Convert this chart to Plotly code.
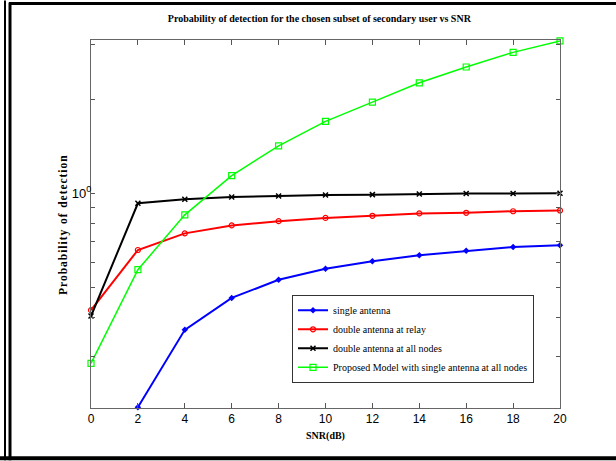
import plotly.graph_objects as go
import math

snr = [0, 2, 4, 6, 8, 10, 12, 14, 16, 18, 20]
single_antenna = [None, 0.206, 0.365, 0.462, 0.528, 0.573, 0.606, 0.633, 0.654, 0.673, 0.681]
double_relay = [0.422, 0.658, 0.744, 0.789, 0.814, 0.834, 0.847, 0.862, 0.866, 0.876, 0.881]
double_all = [0.404, 0.929, 0.957, 0.973, 0.980, 0.988, 0.990, 0.995, 0.998, 0.999, 1.0]
proposed = [0.285, 0.569, 0.853, 1.139, 1.42, 1.70, 1.96, 2.26, 2.54, 2.83, 3.08]

names = ["single antenna", "double antenna at relay", "double antenna at all nodes",
         "Proposed Model with single antenna at all nodes"]

x_ticks = [0, 2, 4, 6, 8, 10, 12, 14, 16, 18, 20]
y_ticks = [0.3, 0.4, 0.5, 0.6, 0.7, 0.8, 0.9, 1, 2, 3]
y_ticktext = ["", "", "", "", "", "", "", "10<sup>0</sup>", "", ""]

fig = go.Figure()
styles = [
    (single_antenna, "#0000ff", 2, dict(symbol="diamond", size=5)),
    (double_relay, "#ff0000", 2, dict(symbol="circle-open", size=5, line=dict(width=1.2))),
    (double_all, "#000000", 2, dict(symbol="x-thin-open", size=5, line=dict(width=1.5, color="#000000"))),
    (proposed, "#00ff00", 1.5, dict(symbol="square-open", size=6, line=dict(width=1.2))),
]
for (vals, col, lw, mk), nm in zip(styles, names):
    mk = dict(mk)
    mk["color"] = col
    fig.add_trace(go.Scatter(x=snr, y=vals, name=nm, mode="lines+markers",
                             line=dict(color=col, width=lw), marker=mk,
                             cliponaxis=False, connectgaps=False))

L, R, T, B = 91, 560, 39.5, 408.5
W, H = 616, 461
pw, ph = R - L, B - T

def px(x):
    return (x - L) / pw

def py(y):
    return (B - y) / ph

shapes = [
    dict(type="line", xref="paper", yref="paper", x0=px(5), x1=px(5), y0=py(0), y1=py(461),
         line=dict(color="black", width=2)),
    dict(type="line", xref="paper", yref="paper", x0=px(10), x1=px(10), y0=py(2), y1=py(461),
         line=dict(color="black", width=3)),
    dict(type="line", xref="paper", yref="paper", x0=px(9), x1=px(616), y0=py(3), y1=py(3),
         line=dict(color="black", width=3)),
    dict(type="line", xref="paper", yref="paper", x0=px(0), x1=px(616), y0=py(459), y1=py(459),
         line=dict(color="black", width=4)),
]

annotations = [
    dict(text="<b>P r o b a b i l i t y  o f  d e t e c t i o n</b>".replace(" ", "\u200a").replace("\u200a\u200a", "\u2002"),
         xref="paper", yref="paper", x=px(64), y=py(225), xanchor="center", yanchor="middle",
         textangle=-90, showarrow=False,
         font=dict(family="Liberation Serif", size=11.5, color="black")),
]

fig.update_layout(
    width=W, height=H,
    margin=dict(l=L, r=W - R, t=T, b=H - B, autoexpand=False),
    paper_bgcolor="white", plot_bgcolor="white",
    showlegend=True,
    title=dict(text="<b>Probability of detection for the chosen subset of secondary user vs SNR</b>",
               x=(L + R) / 2 / W - 0.01, xanchor="center", y=1 - 18 / H, yanchor="middle",
               font=dict(family="Liberation Serif", size=10, color="black")),
    legend=dict(x=px(292), y=py(295), xanchor="left", yanchor="top",
                bgcolor="white", bordercolor="#333333", borderwidth=1,
                font=dict(family="Liberation Serif", size=10, color="black"),
                tracegroupgap=0, itemwidth=30),
    shapes=shapes,
    annotations=annotations,
    xaxis=dict(range=[0, 20], tickvals=x_ticks, ticks="inside", ticklen=5, tickcolor="#555",
               showline=True, linecolor="#666", linewidth=1, mirror="ticks",
               showgrid=False, zeroline=False, automargin=False,
               tickfont=dict(family="Liberation Sans", size=12, color="black"),
               title=dict(text="<b>SNR(dB)</b>", standoff=6,
                          font=dict(family="Liberation Serif", size=10, color="black"))),
    yaxis=dict(type="log", range=[math.log10(0.205), math.log10(3.1)],
               tickvals=y_ticks, ticktext=y_ticktext, ticks="inside", ticklen=4, tickcolor="#555",
               showline=True, linecolor="#666", linewidth=1, mirror="ticks",
               showgrid=False, zeroline=False, automargin=False, ticklabelstandoff=-4,
               tickfont=dict(family="Liberation Sans", size=13, color="black")),
)

fig.write_html("out.html", config={"displayModeBar": False},
               post_script="document.body.style.margin='0';document.body.style.padding='0';")
